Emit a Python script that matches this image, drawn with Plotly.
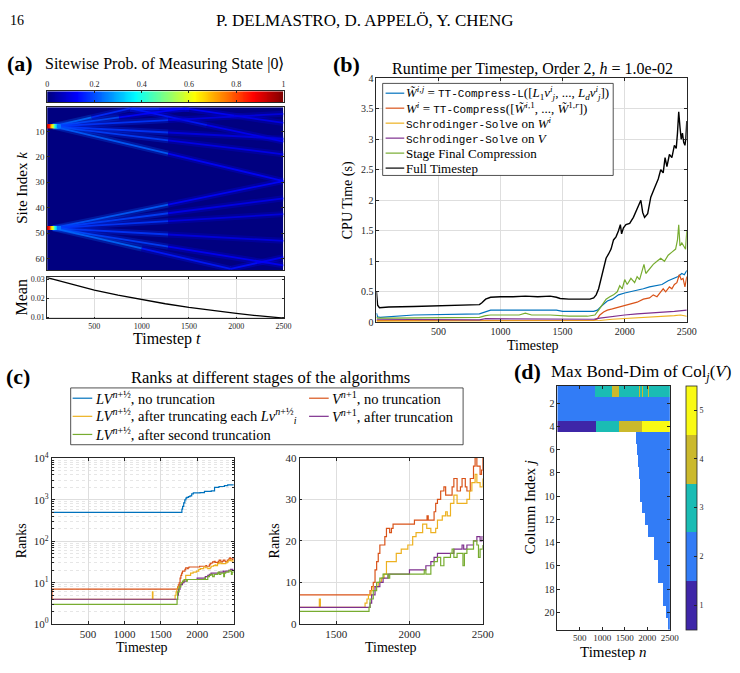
import numpy as np
import plotly.graph_objects as go

W, H = 740, 673
SERIF = "Liberation Serif"
MONO = "Liberation Mono"
INK = "#262626"
GRID = "#DEDEDE"

C_BLUE, C_ORANGE, C_YELLOW = "#0072BD", "#D95319", "#EDB120"
C_PURPLE, C_GREEN, C_BLACK = "#7E2F8E", "#77AC30", "#000000"

# ---------------- (a) sitewise probability ----------------
mean_t = [1, 250, 500, 750, 1000, 1250, 1500, 1750, 2000, 2250, 2500]
mean_v = [0.0310, 0.0275, 0.0244, 0.0217, 0.0193, 0.0171, 0.0152, 0.0135, 0.0120, 0.0106, 0.0094]

source_sites = [8, 48]
hot_t = [5, 20, 35, 50, 65, 80, 95, 110, 125]
hot_p = [0.88, 0.93, 0.86, 0.76, 0.64, 0.55, 0.42, 0.32, 0.24]

beam_t0 = [60, 880, 880, 60, 1460, 60, 60, 60, 60, 60, 60, 60, 60, 60, 60, 1940]
beam_k0 = [8, 1, 1.2, 8, 1, 8, 8, 8, 8, 48, 48, 48, 48, 48, 48, 64]
beam_t1 = [880, 2500, 1500, 1460, 2500, 2500, 2500, 2500, 2500, 2500, 2500, 2500, 2500, 2500, 1940, 2500]
beam_k1 = [1, 14, 1.2, 1, 6.7, 3.1, 12.9, 19, 29.5, 29.5, 36.3, 42.5, 53, 62.6, 64, 59.4]
beam_p_near = [0.24, 0.15, 0.17, 0.2, 0.13, 0.18, 0.18, 0.19, 0.22, 0.22, 0.19, 0.18, 0.18, 0.19, 0.23, 0.14]
beam_p_far = [0.17, 0.12, 0.14, 0.13, 0.11, 0.1, 0.1, 0.11, 0.13, 0.13, 0.11, 0.1, 0.1, 0.12, 0.15, 0.12]

# ---------------- (b) runtime per timestep ----------------
black_t = [1, 10, 25, 100, 300, 500, 700, 830, 850, 880, 920, 1000, 1100, 1200, 1300, 1400, 1450, 1480,
           1550, 1650, 1720, 1750, 1770, 1790, 1810, 1830, 1850, 1870, 1890, 1910, 1930, 1950, 1965, 1975,
           1990, 2010, 2040, 2070, 2100, 2130, 2145, 2160, 2185, 2210, 2240, 2270, 2290, 2310, 2325, 2340,
           2360, 2380, 2400, 2415, 2425, 2435, 2445, 2455, 2465, 2475, 2485, 2492, 2500]
black_v = [0.5, 0.28, 0.24, 0.25, 0.26, 0.27, 0.28, 0.29, 0.32, 0.38, 0.41, 0.42, 0.42, 0.43, 0.42, 0.43,
           0.41, 0.39, 0.38, 0.38, 0.38, 0.40, 0.45, 0.55, 0.72, 0.92, 1.05, 1.12, 1.2, 1.35, 1.4, 1.5, 1.6,
           1.45, 1.55, 1.6, 1.62, 1.72, 1.85, 2.0, 1.8, 1.72, 1.78, 2.05, 2.2, 2.35, 2.5, 2.45, 2.7, 2.55,
           2.75, 2.7, 2.9, 2.85, 3.1, 3.45, 3.2, 3.0, 3.1, 2.95, 2.9, 3.0, 3.3]
green_t = [1, 10, 100, 500, 830, 880, 920, 1000, 1150, 1200, 1250, 1400, 1450, 1550, 1700, 1760, 1790,
           1820, 1850, 1880, 1910, 1940, 1960, 1980, 2000, 2020, 2050, 2080, 2100, 2120, 2140, 2155, 2170,
           2200, 2230, 2260, 2290, 2320, 2350, 2380, 2410, 2425, 2435, 2445, 2460, 2475, 2490, 2500]
green_v = [0.09, 0.07, 0.07, 0.07, 0.08, 0.11, 0.12, 0.12, 0.12, 0.15, 0.12, 0.12, 0.11, 0.10, 0.10, 0.12,
           0.2, 0.3, 0.38, 0.42, 0.45, 0.5, 0.6, 0.55, 0.7, 0.62, 0.72, 0.65, 0.75, 0.7, 0.85, 0.95, 0.8,
           0.88, 0.95, 1.0, 1.05, 1.0, 1.1, 1.15, 1.2, 1.35, 1.6, 1.25, 1.3, 1.25, 1.2, 1.5]
blue_t = [1, 10, 30, 300, 830, 880, 920, 1450, 1500, 1750, 1780, 1820, 1860, 1900, 1950, 2000, 2050,
          2100, 2150, 2200, 2250, 2300, 2350, 2400, 2430, 2460, 2480, 2500]
blue_v = [0.15, 0.09, 0.08, 0.12, 0.14, 0.18, 0.2, 0.2, 0.18, 0.18, 0.2, 0.28, 0.35, 0.38, 0.45, 0.48,
          0.5, 0.52, 0.55, 0.58, 0.6, 0.62, 0.68, 0.72, 0.75, 0.8, 0.78, 0.85]
orange_t = [1, 1750, 1780, 1800, 1830, 1860, 1900, 1950, 2000, 2050, 2100, 2150, 2200, 2230, 2260, 2290,
            2310, 2330, 2360, 2380, 2400, 2420, 2440, 2455, 2470, 2485, 2500]
orange_v = [0.03, 0.03, 0.06, 0.12, 0.17, 0.2, 0.22, 0.25, 0.28, 0.3, 0.33, 0.38, 0.4, 0.45, 0.42, 0.5,
            0.55, 0.5, 0.58, 0.55, 0.62, 0.65, 0.78, 0.7, 0.72, 0.58, 0.75]
purple_t = [1, 830, 880, 1450, 1500, 1750, 1800, 1900, 2000, 2100, 2200, 2300, 2400, 2500]
purple_v = [0.05, 0.04, 0.06, 0.06, 0.05, 0.05, 0.07, 0.1, 0.12, 0.14, 0.15, 0.17, 0.18, 0.2]
yellow_t = [1, 1750, 1800, 1900, 2000, 2100, 2200, 2300, 2400, 2450, 2500]
yellow_v = [0.02, 0.02, 0.03, 0.05, 0.06, 0.08, 0.09, 0.1, 0.11, 0.12, 0.1]

MONO_SPAN = '<span style="font-family:Liberation Mono;font-size:11px">%s</span>'
legend_b_labels = [
    '<i>W̃</i><sup><i>i,j</i></sup> = ' + MONO_SPAN % 'TT-Compress-L' +
    '([<i>L</i><sub>1</sub><i>v</i><sup><i>i</i></sup><sub><i>j</i></sub>, ..., <i>L</i><sub><i>d</i></sub><i>v</i><sup><i>i</i></sup><sub><i>j</i></sub>])',
    '<i>W</i><sup><i>i</i></sup> = ' + MONO_SPAN % 'TT-Compress' +
    '([<i>W̃</i><sup><i>i</i>,1</sup>, ..., <i>W̃</i><sup>1,<i>r</i></sup>])',
    MONO_SPAN % 'Schrodinger-Solve' + ' on <i>W</i><sup><i>i</i></sup>',
    MONO_SPAN % 'Schrodinger-Solve' + ' on <i>V</i>',
    'Stage Final Compression',
    'Full Timestep',
]

# ---------------- (c) ranks ----------------
blue_rank_t = [1, 1790, 1800, 1815, 1830, 1845, 1857, 1880, 1902, 1925, 1947, 2040, 2100, 2194, 2239,
               2300, 2374, 2420, 2500]
blue_rank = [500, 600, 700, 850, 1000, 1100, 1150, 1200, 1250, 1400, 1480, 1500, 1600, 1650, 2000, 2100,
             2200, 2300, 2400]
orange_rank_t = [1, 5, 1731, 1742, 1753, 1765, 1776, 1787, 1798, 1809, 1832, 1843, 1865, 1877, 1888, 1910,
                 2034, 2120, 2128, 2157, 2168, 2179, 2191, 2213, 2235, 2247, 2291, 2303, 2325, 2348, 2359,
                 2381, 2392, 2415, 2437, 2448, 2460, 2482, 2492, 2500]
orange_rank = [4, 7, 8, 9, 10, 13, 15, 17, 19, 19, 21, 23, 22, 23, 24, 24, 25, 26, 25, 25, 27, 29, 30, 32,
               33, 31, 33, 35, 32, 33, 35, 33, 32, 35, 38, 40, 38, 36, 37, 40]
yellow_rank_t = [1, 1385, 1392, 1697, 1710, 1720, 1738, 1753, 1787, 1809, 1827, 1843, 1910, 1944, 1989,
                 2022, 2045, 2090, 2118, 2146, 2179, 2191, 2224, 2247, 2258, 2280, 2303, 2325, 2392, 2410,
                 2426, 2448, 2460, 2482, 2500]
yellow_rank = [4, 6, 4, 5, 6, 7, 8, 9, 10, 11, 12, 15, 17, 18, 19, 21, 22, 24, 23, 22, 23, 25, 26, 27, 26,
               29, 31, 29, 30, 32, 34, 36, 34, 33, 35]
purple_rank_t = [1, 1731, 1742, 1765, 1798, 1820, 1854, 1933, 2000, 2112, 2146, 2168, 2191, 2280, 2303,
                 2359, 2370, 2392, 2437, 2460, 2482, 2495, 2500]
purple_rank = [4, 5, 7, 9, 10, 11, 12, 12, 13, 14, 15, 16, 17, 17, 18, 19, 18, 19, 20, 21, 20, 21, 21]
green_rank_t = [1, 1724, 1731, 1753, 1776, 1798, 1820, 1854, 1865, 1888, 2101, 2112, 2135, 2146, 2168,
                2191, 2213, 2235, 2280, 2291, 2303, 2325, 2365, 2375, 2392, 2437, 2460, 2471, 2482, 2500]
green_rank = [3, 4, 6, 8, 10, 11, 12, 11, 12, 12, 13, 12, 12, 14, 15, 16, 14, 16, 17, 18, 16, 17, 14, 17,
              18, 20, 19, 16, 18, 19]

legend_c_labels = [
    '<i>LV</i><sup><i>n</i>+½</sup>, no truncation',
    '<i>V</i><sup><i>n</i>+1</sup>, no truncation',
    '<i>LV</i><sup><i>n</i>+½</sup>, after truncating each <i>Lv</i><sup><i>n</i>+½</sup><sub><i>i</i></sub>',
    '<i>V</i><sup><i>n</i>+1</sup>, after truncation',
    '<i>LV</i><sup><i>n</i>+½</sup>, after second truncation',
]

# ---------------- (d) max bond dimension ----------------
bond_row1_start = [0, 828, 1213, 1373, 1805, 1820, 1880, 1892, 2010, 2022]
bond_row1_dim = [2, 3, 4, 3, 4, 3, 4, 3, 4, 3]
bond_row23_dim = 2
bond_row4_start = [0, 850, 1373, 1867]
bond_row4_dim = [1, 3, 4, 5]
bond_tail_start = [1754, 1769, 1790, 1812, 1826, 1840, 1876, 1934, 1998, 2127, 2127, 2235, 2235,
                   2342, 2342, 2400, 2450]   # rows j = 5..21
bond_tail_dim = 2
parula5 = ["rgb(62,38,168)", "rgb(50,124,246)", "rgb(26,188,180)", "rgb(203,185,44)", "rgb(249,250,20)"]


# ================= helpers =================
def xd(a, b):
    return [a / W, b / W]


def yd(a, b):
    return [1 - b / H, 1 - a / H]


def jet(v):
    r = min(max(1.5 - abs(4 * v - 3), 0), 1)
    g = min(max(1.5 - abs(4 * v - 2), 0), 1)
    b = min(max(1.5 - abs(4 * v - 1), 0), 1)
    return "rgb(%d,%d,%d)" % (round(r * 255), round(g * 255), round(b * 255))


JET = [[0, "rgb(0,0,128)"], [0.125, "rgb(0,0,255)"], [0.375, "rgb(0,255,255)"],
       [0.625, "rgb(255,255,0)"], [0.875, "rgb(255,0,0)"], [1, "rgb(128,0,0)"]]

annotations = []
shapes = []


def text(x, y, s, size, xanchor="left", yanchor="middle", angle=0, family=SERIF, color="black"):
    annotations.append(dict(x=x / W, y=1 - y / H, xref="paper", yref="paper", text=s, showarrow=False,
                            xanchor=xanchor, yanchor=yanchor, textangle=angle,
                            font=dict(family=family, size=size, color=color)))


def seg(x0, y0, x1, y1, color, width=1.2):
    shapes.append(dict(type="line", xref="paper", yref="paper", x0=x0 / W, x1=x1 / W,
                       y0=1 - y0 / H, y1=1 - y1 / H, line=dict(color=color, width=width), layer="above"))


def box(x0, y0, x1, y1):
    shapes.append(dict(type="rect", xref="paper", yref="paper", x0=x0 / W, x1=x1 / W,
                       y0=1 - y1 / H, y1=1 - y0 / H, line=dict(color=INK, width=0.8),
                       fillcolor="white", layer="above"))


def tf(size):
    return dict(family=SERIF, size=size, color=INK)


def ax(**kw):
    base = dict(showline=True, linecolor=INK, linewidth=0.8, mirror="ticks", ticks="inside", ticklen=3,
                tickcolor=INK, tickwidth=0.7, tickfont=tf(10),
                showgrid=True, gridcolor=GRID, gridwidth=0.8, zeroline=False, tickangle=0)
    base.update(kw)
    return base


fig = go.Figure()

# ================= (a) =================
fig.add_trace(go.Heatmap(z=[[0]], x=[0, 2500], y=[0.5, 64.5], colorscale=JET, zmin=0, zmax=1,
                         showscale=False, hoverinfo="skip", xaxis="x", yaxis="y"))
for i in range(len(beam_t0)):
    tm = 0.5 * (beam_t0[i] + beam_t1[i])
    km = 0.5 * (beam_k0[i] + beam_k1[i])
    halves = [([beam_t0[i], tm], [beam_k0[i], km], beam_p_near[i]),
              ([tm, beam_t1[i]], [km, beam_k1[i]], beam_p_far[i])]
    for xs, ys, p in halves:
        for w, op in [(6, 0.25), (1.8, 0.85)]:
            fig.add_trace(go.Scatter(x=xs, y=ys, mode="lines",
                                     line=dict(color=jet(p), width=w), opacity=op,
                                     showlegend=False, hoverinfo="skip", xaxis="x", yaxis="y"))
for k in source_sites:
    fig.add_trace(go.Scatter(x=hot_t, y=[k] * len(hot_t), mode="markers",
                             marker=dict(symbol="square", size=4, color=hot_p, colorscale=JET,
                                         cmin=0, cmax=1, line=dict(width=0)),
                             showlegend=False, hoverinfo="skip", xaxis="x", yaxis="y"))
# colour bar of (a)
cb_levels = np.linspace(0, 1, 256)
fig.add_trace(go.Heatmap(z=[cb_levels], x=np.linspace(0, 1, 257), y=[0, 1], colorscale=JET, zmin=0,
                         zmax=1, showscale=False, hoverinfo="skip", xaxis="x2", yaxis="y2"))
fig.add_trace(go.Scatter(x=mean_t, y=mean_v, mode="lines", line=dict(color="black", width=1.3),
                         showlegend=False, xaxis="x3", yaxis="y3"))

# ================= (b) =================
for tt, vv, c, w in [(blue_t, blue_v, C_BLUE, 1.2), (orange_t, orange_v, C_ORANGE, 1.2),
                     (yellow_t, yellow_v, C_YELLOW, 1.2), (purple_t, purple_v, C_PURPLE, 1.2),
                     (green_t, green_v, C_GREEN, 1.2), (black_t, black_v, C_BLACK, 1.4)]:
    fig.add_trace(go.Scatter(x=tt, y=vv, mode="lines", line=dict(color=c, width=w),
                             showlegend=False, xaxis="x4", yaxis="y4"))

# ================= (c) =================
series_c = [(blue_rank_t, blue_rank, C_BLUE), (orange_rank_t, orange_rank, C_ORANGE),
            (yellow_rank_t, yellow_rank, C_YELLOW), (purple_rank_t, purple_rank, C_PURPLE),
            (green_rank_t, green_rank, C_GREEN)]
for tt, vv, c in series_c:
    fig.add_trace(go.Scatter(x=tt, y=vv, mode="lines", line=dict(color=c, width=1.2, shape="hv"),
                             showlegend=False, xaxis="x5", yaxis="y5"))
for tt, vv, c in series_c[1:]:
    fig.add_trace(go.Scatter(x=tt, y=vv, mode="lines", line=dict(color=c, width=1.2, shape="hv"),
                             showlegend=False, xaxis="x6", yaxis="y6"))

# ================= (d) =================
t_edges = np.arange(0, 2501, 10)
t_mid = t_edges[:-1] + 5


def row_values(starts, dims):
    idx = np.searchsorted(np.array(starts), t_mid, side="right") - 1
    return np.array(dims, dtype=float)[idx]


zrows = [row_values(bond_row1_start, bond_row1_dim),
         np.full(t_mid.shape, float(bond_row23_dim)),
         np.full(t_mid.shape, float(bond_row23_dim)),
         row_values(bond_row4_start, bond_row4_dim)]
for s in bond_tail_start:
    zrows.append(np.where(t_mid >= s, float(bond_tail_dim), np.nan))
zd = np.vstack(zrows)
dscale = []
for i, c in enumerate(parula5):
    dscale += [[i / 5, c], [(i + 1) / 5, c]]
fig.add_trace(go.Heatmap(
    z=zd, x=t_edges, y=np.arange(0.5, 22, 1.0), colorscale=dscale, zmin=0.5, zmax=5.5,
    hoverinfo="skip", xaxis="x7", yaxis="y7",
    colorbar=dict(x=697 / W, xanchor="left", xpad=0, y=1 - 385.7 / H, yanchor="top", ypad=0,
                  len=(635 - 385.7) / H, lenmode="fraction", thickness=11, thicknessmode="pixels",
                  tickvals=[1, 2, 3, 4, 5], ticks="inside", ticklen=3, tickcolor=INK,
                  tickfont=tf(8), outlinecolor=INK, outlinewidth=0.8)))

# ================= layout / axes =================
xt = [500, 1000, 1500, 2000, 2500]
layout = dict(
    width=W, height=H, margin=dict(l=0, r=0, t=0, b=0), paper_bgcolor="white", plot_bgcolor="white",
    showlegend=False,
    xaxis=ax(domain=xd(46, 287), anchor="y", range=[0, 2500], showticklabels=False, ticks="",
             showgrid=False),
    yaxis=ax(domain=yd(101.3, 267.7), anchor="x", range=[64.5, 0.5], tickvals=[10, 20, 30, 40, 50, 60],
             showgrid=False, tickfont=tf(9)),
    xaxis2=ax(domain=xd(46, 287), anchor="y2", range=[0, 1], side="top", tickvals=[0, 0.2, 0.4, 0.6, 0.8, 1],
              showgrid=False, ticklen=2, tickfont=tf(8)),
    yaxis2=ax(domain=yd(85, 96), anchor="x2", range=[0, 1], showticklabels=False, ticks="", showgrid=False),
    xaxis3=ax(domain=xd(46, 287), anchor="y3", range=[1, 2500], tickvals=xt, ticklen=2, tickfont=tf(8)),
    yaxis3=ax(domain=yd(275, 317), anchor="x3", range=[0.0093, 0.0312], tickvals=[0.01, 0.02, 0.03],
              ticklen=2, tickfont=tf(8)),
    xaxis4=ax(domain=xd(381.7, 698), anchor="y4", range=[1, 2500], tickvals=xt),
    yaxis4=ax(domain=yd(71.7, 321), anchor="x4", range=[0, 4], dtick=0.5),
    xaxis5=ax(domain=xd(50.7, 236), anchor="y5", range=[1, 2500], tickvals=xt, tickfont=tf(11)),
    yaxis5=ax(domain=yd(460, 629.3), anchor="x5", type="log", range=[0, 4],
              tickvals=[1, 10, 100, 1000, 10000],
              ticktext=["10<sup>0</sup>", "10<sup>1</sup>", "10<sup>2</sup>", "10<sup>3</sup>", "10<sup>4</sup>"],
              tickfont=tf(11),
              minor=dict(tickvals=[m * 10 ** e for e in range(4) for m in range(2, 10)], ticks="inside",
                         ticklen=2, tickcolor=INK, showgrid=True, gridcolor="#E6E6E6", griddash="dot")),
    xaxis6=ax(domain=xd(303.3, 490), anchor="y6", range=[1250, 2500], tickvals=[1500, 2000, 2500],
              tickfont=tf(11)),
    yaxis6=ax(domain=yd(459.3, 629), anchor="x6", range=[0, 40], tickvals=[0, 10, 20, 30, 40],
              tickfont=tf(11)),
    xaxis7=ax(domain=xd(566, 680.7), anchor="y7", range=[0, 2500], tickvals=xt, showgrid=False,
              tickfont=tf(9)),
    yaxis7=ax(domain=yd(385.7, 635), anchor="x7", range=[21.5, 0.5], tickvals=list(range(2, 21, 2)),
              showgrid=False, tickfont=tf(10)),
)

# ---------------- texts ----------------
text(6, 13, "16", 14)
text(370, 13, "P. DELMASTRO, D. APPELÖ, Y. CHENG", 17, xanchor="center")

text(3, 57, "<b>(a)</b>", 22)
text(42, 57, "Sitewise Prob. of Measuring State |0⟩", 16)
text(21, 184, "Site Index <i>k</i>", 15, xanchor="center", angle=-90)
text(20, 296, "Mean", 16, xanchor="center", angle=-90)
text(168, 338, "Timestep <i>t</i>", 16, xanchor="center")

text(335, 58, "<b>(b)</b>", 22)
text(541, 62, "Runtime per Timestep, Order 2, <i>h</i> = 1.0e-02", 16, xanchor="center")
text(353, 196, "CPU Time (s)", 14, xanchor="center", angle=-90)
text(541, 345, "Timestep", 14, xanchor="center")

text(2, 376, "<b>(c)</b>", 22)
text(274, 377, "Ranks at different stages of the algorithms", 16.5, xanchor="center")
text(20, 544, "Ranks", 14, xanchor="center", angle=-90)
text(143, 653, "Timestep", 14, xanchor="center")
text(278, 544, "Ranks", 14, xanchor="center", angle=-90)
text(397, 653, "Timestep", 14, xanchor="center")

text(520, 371, "<b>(d)</b>", 22)
text(558, 373, "Max Bond-Dim of Col<sub><i>j</i></sub>(<i>V</i>)", 17)
text(539, 510, "Column Index <i>j</i>", 15, xanchor="center", angle=-90)
text(623, 658, "Timestep <i>n</i>", 15, xanchor="center")

# legend (b)
box(388, 77, 623, 171)
leg_b_colors = [C_BLUE, C_ORANGE, C_YELLOW, C_PURPLE, C_GREEN, C_BLACK]
for i, (lab, c) in enumerate(zip(legend_b_labels, leg_b_colors)):
    yy = 87 + i * 15.3
    seg(391, yy, 410, yy, c, 1.2)
    text(410, yy, lab, 13)

# legend (c)
box(70, 388, 470, 446)
leg_c_colors = [C_BLUE, C_ORANGE, C_YELLOW, C_PURPLE, C_GREEN]
leg_c_pos = [(72, 398.5), (313, 398.5), (72, 417), (313, 417), (72, 435.5)]
for lab, c, (xx, yy) in zip(legend_c_labels, leg_c_colors, leg_c_pos):
    seg(xx, yy, xx + 20, yy, c, 1.2)
    text(xx + 21, yy, lab, 14.5)

layout["annotations"] = annotations
layout["shapes"] = shapes
fig.update_layout(**layout)
fig.write_html("out.html")
